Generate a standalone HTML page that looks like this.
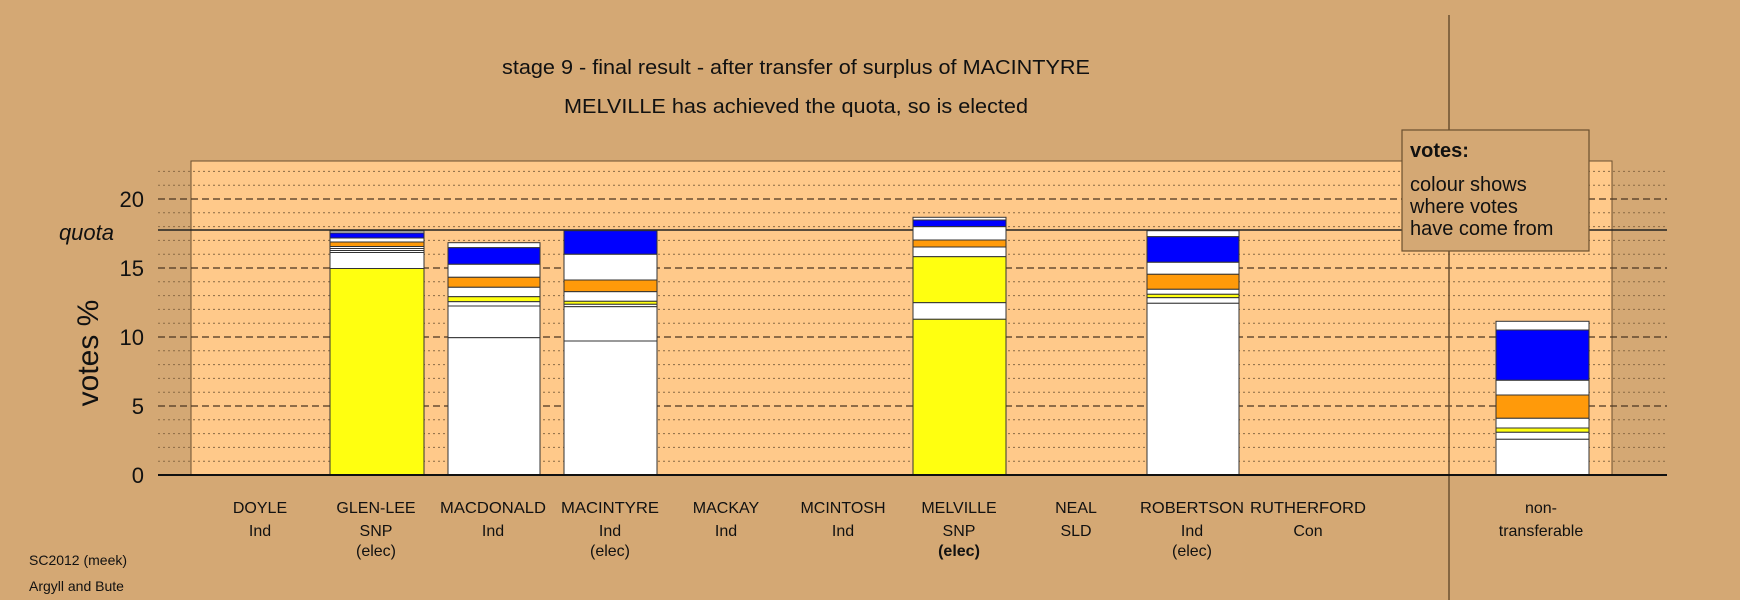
<!DOCTYPE html>
<html><head><meta charset="utf-8"><style>
html,body{margin:0;padding:0;background:#D4A874;}
svg{display:block;font-family:"Liberation Sans",sans-serif;}
</style></head><body>
<svg width="1740" height="600" viewBox="0 0 1740 600" xmlns="http://www.w3.org/2000/svg">
<rect x="0" y="0" width="1740" height="600" fill="#D4A874"/>
<rect x="191" y="161" width="1421" height="314" fill="#FFC98A" stroke="#6b5030" stroke-width="1"/>
<g stroke="#8a6a45" stroke-width="1" stroke-dasharray="2,3">
<line x1="158" x2="1667" y1="461.2" y2="461.2"/><line x1="158" x2="1667" y1="447.4" y2="447.4"/><line x1="158" x2="1667" y1="433.6" y2="433.6"/><line x1="158" x2="1667" y1="419.8" y2="419.8"/>
<line x1="158" x2="1667" y1="392.2" y2="392.2"/><line x1="158" x2="1667" y1="378.4" y2="378.4"/><line x1="158" x2="1667" y1="364.6" y2="364.6"/><line x1="158" x2="1667" y1="350.8" y2="350.8"/>
<line x1="158" x2="1667" y1="323.2" y2="323.2"/><line x1="158" x2="1667" y1="309.4" y2="309.4"/><line x1="158" x2="1667" y1="295.6" y2="295.6"/><line x1="158" x2="1667" y1="281.8" y2="281.8"/>
<line x1="158" x2="1667" y1="254.2" y2="254.2"/><line x1="158" x2="1667" y1="240.4" y2="240.4"/><line x1="158" x2="1667" y1="226.6" y2="226.6"/><line x1="158" x2="1667" y1="212.8" y2="212.8"/>
<line x1="158" x2="1667" y1="185.2" y2="185.2"/><line x1="158" x2="1667" y1="171.4" y2="171.4"/>
</g>
<g stroke="#4a3520" stroke-width="1.2" stroke-dasharray="7,4">
<line x1="158" x2="1667" y1="406" y2="406"/><line x1="158" x2="1667" y1="337" y2="337"/><line x1="158" x2="1667" y1="268" y2="268"/><line x1="158" x2="1667" y1="199" y2="199"/>
</g>
<line x1="158" x2="1667" y1="230" y2="230" stroke="#222" stroke-width="1.5"/>
<line x1="1449" x2="1449" y1="15" y2="600" stroke="#6b5030" stroke-width="1.5"/>
<g stroke="#333" stroke-width="1">
<rect x="330" y="231" width="94" height="2" fill="#fff"/>
<rect x="330" y="233" width="94" height="5" fill="#0000ff"/>
<rect x="330" y="238" width="94" height="4" fill="#fff"/>
<rect x="330" y="242" width="94" height="4.5" fill="#ff9a0a"/>
<rect x="330" y="246.5" width="94" height="2" fill="#fff"/>
<rect x="330" y="248.5" width="94" height="2" fill="#fff"/>
<rect x="330" y="250.5" width="94" height="2" fill="#fff"/>
<rect x="330" y="252.5" width="94" height="16" fill="#fff"/>
<rect x="330" y="268.5" width="94" height="206.5" fill="#ffff10"/>
<rect x="448" y="242.7" width="92" height="5" fill="#fff"/>
<rect x="448" y="247.7" width="92" height="16.6" fill="#0000ff"/>
<rect x="448" y="264.3" width="92" height="13" fill="#fff"/>
<rect x="448" y="277.3" width="92" height="10" fill="#ff9a0a"/>
<rect x="448" y="287.3" width="92" height="9.4" fill="#fff"/>
<rect x="448" y="296.7" width="92" height="5" fill="#ffff10"/>
<rect x="448" y="301.7" width="92" height="4.3" fill="#fff"/>
<rect x="448" y="306" width="92" height="31.7" fill="#fff"/>
<rect x="448" y="337.7" width="92" height="137.3" fill="#fff"/>
<rect x="564" y="230.7" width="93" height="23.6" fill="#0000ff"/>
<rect x="564" y="254.3" width="93" height="25.7" fill="#fff"/>
<rect x="564" y="280" width="93" height="11.7" fill="#ff9a0a"/>
<rect x="564" y="291.7" width="93" height="9.6" fill="#fff"/>
<rect x="564" y="301.3" width="93" height="3" fill="#ffff10"/>
<rect x="564" y="304.3" width="93" height="2.4" fill="#fff"/>
<rect x="564" y="306.7" width="93" height="34.3" fill="#fff"/>
<rect x="564" y="341" width="93" height="134" fill="#fff"/>
<rect x="913" y="217.3" width="93" height="2.7" fill="#fff"/>
<rect x="913" y="220" width="93" height="6.7" fill="#0000ff"/>
<rect x="913" y="226.7" width="93" height="13.3" fill="#fff"/>
<rect x="913" y="240" width="93" height="7" fill="#ff9a0a"/>
<rect x="913" y="247" width="93" height="9.7" fill="#fff"/>
<rect x="913" y="256.7" width="93" height="46" fill="#ffff10"/>
<rect x="913" y="302.7" width="93" height="16.6" fill="#fff"/>
<rect x="913" y="319.3" width="93" height="155.7" fill="#ffff10"/>
<rect x="1147" y="230.7" width="92" height="6" fill="#fff"/>
<rect x="1147" y="236.7" width="92" height="25.6" fill="#0000ff"/>
<rect x="1147" y="262.3" width="92" height="12" fill="#fff"/>
<rect x="1147" y="274.3" width="92" height="15" fill="#ff9a0a"/>
<rect x="1147" y="289.3" width="92" height="5" fill="#fff"/>
<rect x="1147" y="294.3" width="92" height="3.4" fill="#ffff10"/>
<rect x="1147" y="297.7" width="92" height="5.6" fill="#fff"/>
<rect x="1147" y="303.3" width="92" height="171.7" fill="#fff"/>
<rect x="1496" y="321.3" width="93" height="8.7" fill="#fff"/>
<rect x="1496" y="330" width="93" height="50.3" fill="#0000ff"/>
<rect x="1496" y="380.3" width="93" height="14.7" fill="#fff"/>
<rect x="1496" y="395" width="93" height="23.3" fill="#ff9a0a"/>
<rect x="1496" y="418.3" width="93" height="9.7" fill="#fff"/>
<rect x="1496" y="428" width="93" height="4.3" fill="#ffff10"/>
<rect x="1496" y="432.3" width="93" height="7" fill="#fff"/>
<rect x="1496" y="439.3" width="93" height="35.7" fill="#fff"/>
</g>
<line x1="158" x2="1667" y1="475" y2="475" stroke="#111" stroke-width="2"/>
<rect x="1402" y="130" width="187" height="121" fill="#D4A874" stroke="#6b5030" stroke-width="1.2"/>
<text x="1410" y="157" font-size="20" font-weight="bold" fill="#111">votes:</text>
<text x="1410" y="191" font-size="20" fill="#111">colour shows</text>
<text x="1410" y="213" font-size="20" fill="#111">where votes</text>
<text x="1410" y="235" font-size="20" fill="#111">have come from</text>
<g font-size="22" fill="#111" text-anchor="end">
<text x="144" y="207">20</text><text x="144" y="276">15</text><text x="144" y="345">10</text><text x="144" y="414">5</text><text x="144" y="483">0</text>
<text x="114" y="240" font-style="italic">quota</text>
</g>
<text transform="translate(98,353) rotate(-90)" font-size="30" text-anchor="middle" fill="#111">votes %</text>
<text x="796" y="74" font-size="20" text-anchor="middle" fill="#111" textLength="588" lengthAdjust="spacingAndGlyphs">stage 9 - final result - after transfer of surplus of MACINTYRE</text>
<text x="796" y="113" font-size="20" text-anchor="middle" fill="#111" textLength="464" lengthAdjust="spacingAndGlyphs">MELVILLE has achieved the quota, so is elected</text>
<g font-size="16" text-anchor="middle" fill="#111">
<text x="260" y="513">DOYLE</text><text x="260" y="536">Ind</text>
<text x="376" y="513">GLEN-LEE</text><text x="376" y="536">SNP</text><text x="376" y="556">(elec)</text>
<text x="493" y="513" textLength="106" lengthAdjust="spacingAndGlyphs">MACDONALD</text><text x="493" y="536">Ind</text>
<text x="610" y="513" textLength="98" lengthAdjust="spacingAndGlyphs">MACINTYRE</text><text x="610" y="536">Ind</text><text x="610" y="556">(elec)</text>
<text x="726" y="513">MACKAY</text><text x="726" y="536">Ind</text>
<text x="843" y="513">MCINTOSH</text><text x="843" y="536">Ind</text>
<text x="959" y="513">MELVILLE</text><text x="959" y="536">SNP</text><text x="959" y="556" font-weight="bold">(elec)</text>
<text x="1076" y="513">NEAL</text><text x="1076" y="536">SLD</text>
<text x="1192" y="513" textLength="104" lengthAdjust="spacingAndGlyphs">ROBERTSON</text><text x="1192" y="536">Ind</text><text x="1192" y="556">(elec)</text>
<text x="1308" y="513" textLength="116" lengthAdjust="spacingAndGlyphs">RUTHERFORD</text><text x="1308" y="536">Con</text>
<text x="1541" y="513">non-</text><text x="1541" y="536">transferable</text>
</g>
<text x="29" y="565" font-size="14" fill="#111">SC2012 (meek)</text>
<text x="29" y="591" font-size="14" fill="#111">Argyll and Bute</text>
</svg>
</body></html>
